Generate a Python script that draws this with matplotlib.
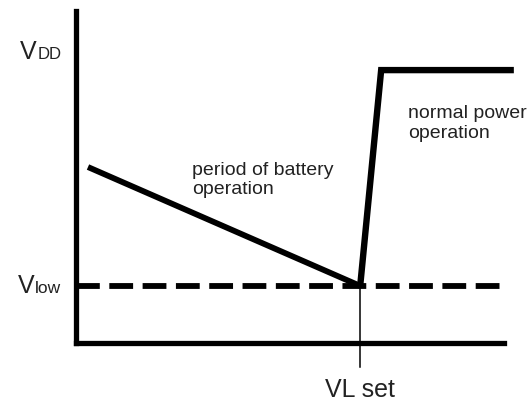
import matplotlib.pyplot as plt

plt.rcParams['font.family'] = ['Liberation Sans', 'DejaVu Sans']

# schematic data (time, voltage) in arbitrary units
battery_t = [0.28, 6.64]
battery_v = [5.30, 1.72]
normal_t = [6.64, 7.13, 10.23]
normal_v = [1.72, 8.22, 8.22]
v_low = 1.72
vl_set = 6.64
dash_end = 9.91
marker_bottom = -0.72

txt = '#222222'

fig = plt.figure(figsize=(5.28, 4.02), dpi=100)
ax = fig.add_axes([76/528, 58/402, 428/528, 332/402])
ax.set_xlim(0, 10)
ax.set_ylim(0, 10)

for s in ['top', 'right']:
    ax.spines[s].set_visible(False)
for s in ['left', 'bottom']:
    ax.spines[s].set_linewidth(3.8)
    ax.spines[s].set_capstyle('projecting')
ax.set_xticks([])
ax.set_yticks([])

# V_low threshold
ax.plot([0, dash_end], [v_low, v_low], color='black', lw=4.2,
        dashes=(4.08, 1.63), clip_on=False)
# battery discharge
ax.plot(battery_t, battery_v, color='black', lw=4.2, solid_capstyle='butt',
        clip_on=False)
# back to normal power
ax.plot(normal_t, normal_v, color='black', lw=4.6, solid_joinstyle='miter',
        solid_capstyle='butt', clip_on=False)
# VL set marker
ax.plot([vl_set, vl_set], [v_low, marker_bottom], color='black', lw=1.1,
        clip_on=False)

# labels
ax.text(-0.93, 8.58, 'V', ha='right', va='baseline', fontsize=18, color=txt,
        clip_on=False)
ax.text(-0.90, 8.58, 'DD', ha='left', va='baseline', fontsize=12, color=txt,
        clip_on=False)
ax.text(-0.98, 1.54, 'V', ha='right', va='baseline', fontsize=18, color=txt,
        clip_on=False)
ax.text(-0.95, 1.54, 'low', ha='left', va='baseline', fontsize=12.5, color=txt,
        clip_on=False)
ax.text(vl_set, -1.40, 'VL set', ha='center', va='center', fontsize=18,
        color=txt, clip_on=False)
ax.text(2.71, 4.94, 'period of battery\noperation', ha='left', va='center',
        fontsize=14, color=txt, linespacing=1.2)
ax.text(7.76, 6.64, 'normal power\noperation', ha='left', va='center',
        fontsize=14, color=txt, linespacing=1.2, clip_on=False)

fig.savefig('out.png', dpi=100)
